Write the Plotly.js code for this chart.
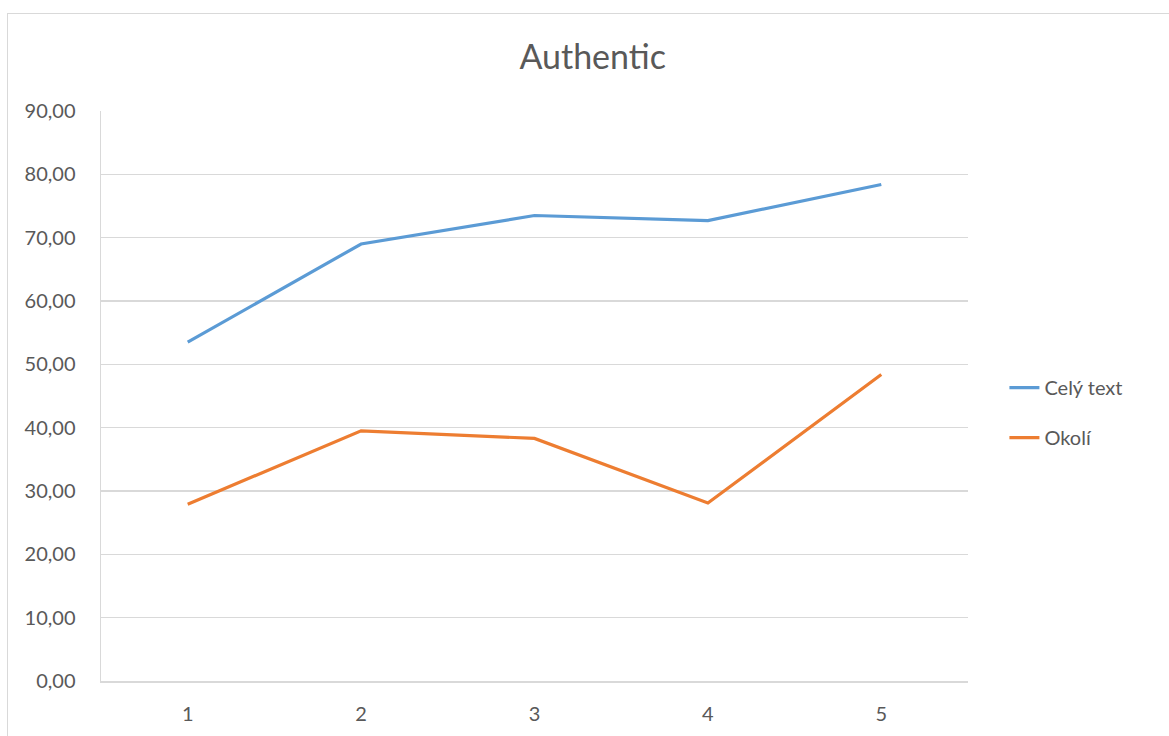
<!DOCTYPE html>
<html>
<head>
<meta charset="utf-8">
<script src="https://cdn.plot.ly/plotly-3.0.1.min.js"></script>
<style>
  html, body { margin: 0; padding: 0; background: #fff; }
  #wrap { position: relative; width: 1169px; height: 736px; overflow: hidden; }
  #frame { position: absolute; left: 7px; top: 13px; width: 1200px; height: 800px; border: 1px solid #d9d9d9; box-sizing: border-box; pointer-events: none; }
  #chart { position: absolute; left: 0; top: 0; width: 1169px; height: 736px; }
</style>
</head>
<body>
<div id="wrap">
  <div id="chart"></div>
  <div id="frame"></div>
</div>
<script>
const categories = ["1", "2", "3", "4", "5"];
const celyText = [53.5, 69.0, 73.5, 72.7, 78.4];
const okoli = [27.9, 39.5, 38.3, 28.1, 48.4];
const seriesNames = ["Celý text", "Okolí"];
const yTicks = [0, 10, 20, 30, 40, 50, 60, 70, 80, 90];

const FONT = "Lato, 'Open Sans', sans-serif";

const traces = [
  { x: categories, y: celyText, name: seriesNames[0], type: "scatter", mode: "lines",
    line: { color: "#5b9bd5", width: 3.2 }, legendgroup: "a" },
  { x: categories, y: okoli, name: seriesNames[1], type: "scatter", mode: "lines",
    line: { color: "#ed7d31", width: 3.2 }, legendgroup: "b" }
];

const layout = {
  width: 1169, height: 736,
  margin: { l: 101, r: 201, t: 111, b: 55 },
  paper_bgcolor: "rgba(0,0,0,0)",
  plot_bgcolor: "#fff",
  separators: ",.",
  title: { text: "Authentic", x: 0.507, xanchor: "center", y: 0.922, yanchor: "middle",
    font: { family: FONT, size: 34, color: "#595959" } },
  xaxis: { type: "category", range: [-0.5, 4.5], showgrid: false, zeroline: false,
    showline: true, linecolor: "#d9d9d9", linewidth: 1.5, ticks: "",
    tickfont: { family: FONT, size: 20, color: "#595959" }, ticklabelstandoff: 14 },
  yaxis: { range: [0, 90], tickvals: yTicks, tickformat: ".2f", showgrid: true,
    gridcolor: "#d9d9d9", gridwidth: 1.5, zeroline: false, showline: true,
    linecolor: "#d9d9d9", linewidth: 1.5, ticks: "",
    tickfont: { family: FONT, size: 20, color: "#595959" }, ticklabelstandoff: 20 },
  showlegend: true,
  legend: { x: 1.042, xanchor: "left", y: 0.471, yanchor: "middle",
    font: { family: FONT, size: 20, color: "#595959" }, traceorder: "grouped",
    tracegroupgap: 21, bgcolor: "rgba(0,0,0,0)", itemwidth: 30 }
};

Plotly.newPlot("chart", traces, layout, { displayModeBar: false, staticPlot: true });
</script>
</body>
</html>
